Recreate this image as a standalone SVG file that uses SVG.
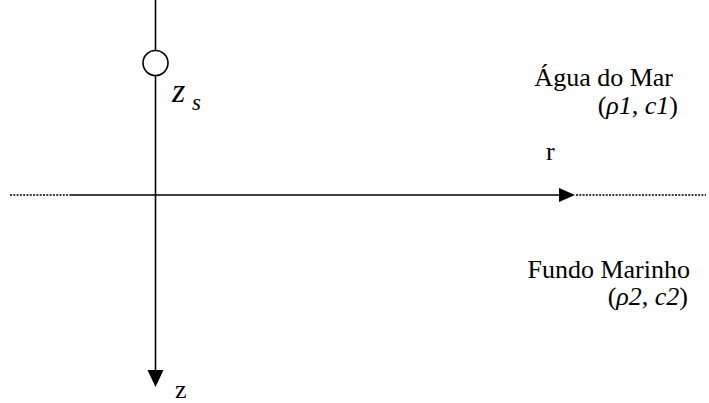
<svg xmlns="http://www.w3.org/2000/svg" width="709" height="403" viewBox="0 0 709 403">
<style>
.ln{stroke:#000;stroke-width:1.6;fill:none}
.dot{stroke:#000;stroke-width:1.4;fill:none;stroke-dasharray:2 1.3}
.t{font-family:"Liberation Serif","Times New Roman",serif;font-size:26px;fill:#000}
.i{font-style:italic}
.big{font-size:34px}
.sub{font-size:23px}
</style>
<rect width="709" height="403" fill="#fff"/>
<g id="connectors">
<line class="dot" x1="10" y1="195" x2="70" y2="195"/>
<line class="ln" x1="70" y1="195" x2="560" y2="195"/>
<polygon points="559,188 575,195 559,202" fill="#000"/>
<line class="dot" x1="576" y1="195" x2="706" y2="195"/>
<line class="ln" x1="155.5" y1="0" x2="155.5" y2="50.5"/>
<line class="ln" x1="155.5" y1="75.5" x2="155.5" y2="372"/>
<polygon points="147.5,370 163.5,370 155.5,387" fill="#000"/>
</g>
<g id="source">
<circle cx="155.5" cy="63" r="12.5" fill="#fff" stroke="#000" stroke-width="1.6"/>
<text class="t i big" x="172" y="102">z</text>
<text class="t i sub" x="192" y="110">s</text>
</g>
<g id="water">
<text class="t" x="673" y="86" text-anchor="end">Água do Mar</text>
<text class="t" x="678" y="114" text-anchor="end">(<tspan class="i">ρ1</tspan>, <tspan class="i">c1</tspan>)</text>
</g>
<g id="r-label"><text class="t" x="546" y="160">r</text></g>
<g id="seabed">
<text class="t" x="690" y="278" text-anchor="end">Fundo Marinho</text>
<text class="t" x="688" y="305" text-anchor="end">(<tspan class="i">ρ2</tspan>, <tspan class="i">c2</tspan>)</text>
</g>
<g id="z-label"><text class="t" x="175" y="398">z</text></g>
</svg>
